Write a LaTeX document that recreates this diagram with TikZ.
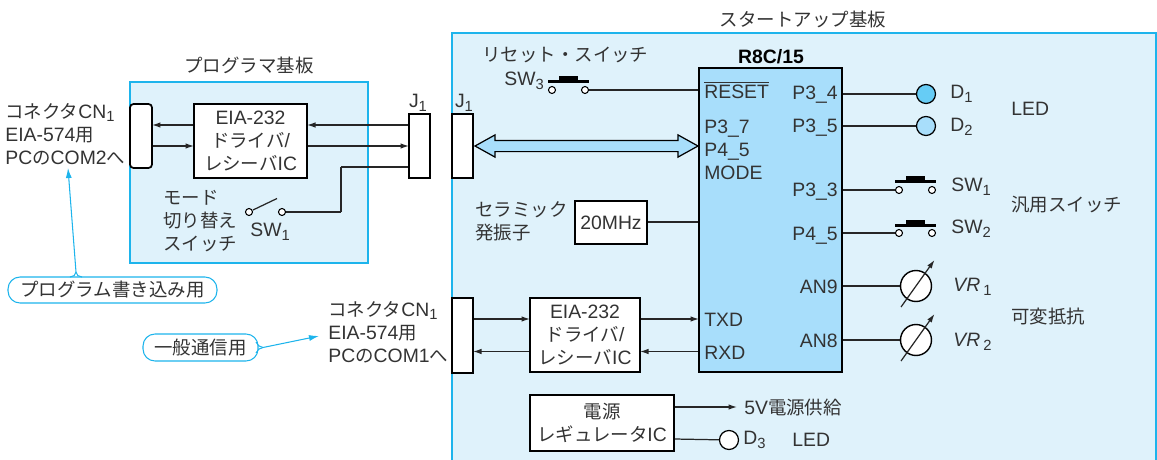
\documentclass[tikz,border=0pt]{standalone}
\usepackage{fontspec}
\setmainfont{Liberation Sans}[Scale=1.05]
\newfontfamily\jpfont{Noto Sans CJK JP}
\newXeTeXintercharclass\jpclass
\newcount\jpcode
\newcommand{\setjprange}[2]{\jpcode=#1 \loop\ifnum\jpcode<#2 \XeTeXcharclass\jpcode=\jpclass \advance\jpcode by 1 \repeat}
\setjprange{"3040}{"3100}
\setjprange{"4E00}{"A000}
\XeTeXinterchartokenstate=1
\XeTeXinterchartoks 0 \jpclass={\jpfont}
\XeTeXinterchartoks 4095 \jpclass={\jpfont}
\XeTeXinterchartoks \jpclass 0={\rmfamily}
\XeTeXinterchartoks \jpclass 4095={\rmfamily}
\newcommand{\low}[1]{\raisebox{-.35ex}{\footnotesize #1}}
\usetikzlibrary{backgrounds,shapes,shapes.arrows,arrows.meta}
\pgfdeclarelayer{boardlayer}
\pgfdeclarelayer{edgelayer}
\pgfdeclarelayer{nodelayer}
\pgfsetlayers{boardlayer,edgelayer,nodelayer,main}
\definecolor{boardline}{HTML}{1DB4EC}
\definecolor{boardfill}{HTML}{DFF2FB}
\definecolor{chipfill}{HTML}{A8DEFB}
\definecolor{ledfill}{HTML}{66CCF5}
\tikzset{font=\fontsize{10.5}{13}\selectfont}
\tikzstyle{none}=[inner sep=0pt]
\tikzstyle{board}=[rectangle,draw=boardline,fill=boardfill,line width=1pt,inner sep=0pt]
\tikzstyle{box}=[rectangle,draw=black,fill=white,line width=1pt,inner sep=0pt,align=center,text=black!80]
\tikzstyle{chip}=[rectangle,draw=black,fill=chipfill,line width=1pt,inner sep=0pt]
\tikzstyle{txt}=[inner sep=0pt,anchor=west,align=left,text=black!80]
\tikzstyle{rtxt}=[inner sep=0pt,anchor=east,align=right,text=black!80]
\tikzstyle{ctxt}=[inner sep=0pt,align=center,text=black!80]
\tikzstyle{term}=[circle,draw=black,fill=white,line width=.6pt,inner sep=0pt,minimum size=.14cm]
\tikzstyle{swbar}=[rectangle,fill=black,inner sep=0pt,minimum width=.82cm,minimum height=.06cm]
\tikzstyle{swcap}=[rectangle,fill=black,inner sep=0pt,minimum width=.38cm,minimum height=.09cm]
\tikzstyle{led}=[circle,draw=black,line width=.7pt,inner sep=0pt,minimum size=.38cm]
\tikzstyle{vr}=[circle,draw=black,fill=white,line width=.8pt,inner sep=0pt,minimum size=.62cm]
\tikzstyle{tag}=[rectangle,rounded corners=.24cm,draw=boardline,fill=white,line width=.6pt,inner sep=0pt,text=black!80]
\tikzstyle{bus}=[double arrow,draw=black,fill=chipfill,line width=.7pt,inner xsep=0pt,inner ysep=.1cm,minimum height=4.46cm,minimum width=.42cm,double arrow head extend=.11cm,double arrow tip angle=58]
\tikzstyle{wire}=[draw=black!85,line width=.7pt]
\tikzstyle{sig}=[wire,-{Latex[length=.17cm,width=.11cm]}]
\tikzstyle{tagline}=[draw=boardline,line width=.6pt]
\tikzstyle{tagarrow}=[tagline,-{Latex[length=.2cm,width=.12cm]}]
\begin{document}
\begin{tikzpicture}[x=0.02cm,y=-0.02cm]
	\useasboundingbox (0,0) rectangle (1157,460);
	\begin{pgfonlayer}{boardlayer}
		\node [style=board,minimum width=4.76cm,minimum height=3.62cm] (0) at (249,172.5) {};
		\node [style=board,minimum width=14.08cm,minimum height=8.74cm] (1) at (804,251.5) {};
	\end{pgfonlayer}
	\begin{pgfonlayer}{nodelayer}
		\node [style=ctxt] (2) at (249,65) {プログラマ基板};
		\node [style=ctxt] (3) at (803,19) {スタートアップ基板};
		\node [style=txt] (4) at (5,134) {コネクタCN\low{1}\\EIA-574用\\PCのCOM2へ};
		\node [style=box,rounded corners=.07cm,minimum width=.44cm,minimum height=1.28cm] (5) at (141,136) {};
		\node [style=box,minimum width=2.26cm,minimum height=1.48cm] (6) at (250.5,141) {EIA-232\\ドライバ/\\レシーバIC};
		\node [style=box,minimum width=.42cm,minimum height=1.28cm] (7) at (419.5,146) {};
		\node [style=box,minimum width=.42cm,minimum height=1.28cm] (8) at (462.5,146) {};
		\node [style=ctxt] (9) at (418,103) {J\low{1}};
		\node [style=ctxt] (10) at (464,103) {J\low{1}};
		\node [style=txt] (11) at (163,221) {モード\\切り替え\\スイッチ};
		\node [style=term] (12) at (249,212) {};
		\node [style=term] (13) at (282,212) {};
		\node [style=none] (14) at (253,210) {};
		\node [style=none] (15) at (277,198.5) {};
		\node [style=txt] (16) at (250,232) {SW\low{1}};
		\node [style=none] (17) at (341,167) {};
		\node [style=none] (18) at (341,212) {};
		\node [style=none] (19) at (152,125) {};
		\node [style=none] (20) at (194,125) {};
		\node [style=none] (21) at (152,146) {};
		\node [style=none] (22) at (194,146) {};
		\node [style=none] (23) at (307,125) {};
		\node [style=none] (24) at (409,125) {};
		\node [style=none] (25) at (307,146) {};
		\node [style=none] (26) at (409,146) {};
		\node [style=none] (27) at (409,167) {};
		\node [style=tag,minimum width=4.18cm,minimum height=.52cm] (28) at (112.5,290) {プログラム書き込み用};
		\node [style=none] (29) at (76,272) {};
		\node [style=none] (30) at (68,168) {};
		\node [style=txt] (31) at (482,55) {リセット・スイッチ};
		\node [style=txt] (32) at (504,81) {SW\low{3}};
		\node [style=term] (33) at (552,90) {};
		\node [style=term] (34) at (585,90) {};
		\node [style=swbar] (35) at (568.5,81) {};
		\node [style=swcap] (36) at (568.5,78.5) {};
		\node [style=chip,minimum width=2.86cm,minimum height=6.08cm] (37) at (770.5,220) {};
		\node [style=ctxt,font=\fontsize{10.5}{13}\selectfont\bfseries,text=black] (38) at (771,57) {R8C/15};
		\node [style=txt] (39) at (704,90) {$\overline{\mbox{RESET}}$};
		\node [style=none] (40) at (699,90) {};
		\node [style=txt] (41) at (704,149.5) {P3\_7\\P4\_5\\MODE};
		\node [style=txt] (42) at (704,320) {TXD};
		\node [style=txt] (43) at (704,353) {RXD};
		\node [style=rtxt] (44) at (838,95) {P3\_4};
		\node [style=rtxt] (45) at (838,128) {P3\_5};
		\node [style=rtxt] (46) at (838,191.5) {P3\_3};
		\node [style=rtxt] (47) at (838,235.5) {P4\_5};
		\node [style=rtxt] (48) at (838,287) {AN9};
		\node [style=rtxt] (49) at (838,341) {AN8};
		\node [style=bus] (50) at (586.5,146) {};
		\node [style=box,minimum width=1.44cm,minimum height=.86cm] (51) at (611,222.5) {20MHz};
		\node [style=none] (52) at (699,222) {};
		\node [style=none] (53) at (647,222) {};
		\node [style=txt] (54) at (475,221.5) {セラミック\\発振子};
		\node [style=none] (55) at (842,94) {};
		\node [style=none] (56) at (842,126) {};
		\node [style=none] (57) at (842,190) {};
		\node [style=none] (58) at (842,233) {};
		\node [style=none] (59) at (842,286) {};
		\node [style=none] (60) at (842,340) {};
		\node [style=led,fill=ledfill] (61) at (926,94) {};
		\node [style=led,fill=chipfill] (62) at (926,126) {};
		\node [style=txt] (63) at (950,94) {D\low{1}};
		\node [style=txt] (64) at (950,127) {D\low{2}};
		\node [style=txt] (65) at (1011,109) {LED};
		\node [style=term] (66) at (899,190) {};
		\node [style=term] (67) at (932,190) {};
		\node [style=swbar] (68) at (915.5,181) {};
		\node [style=swcap] (69) at (915.5,178.5) {};
		\node [style=term] (70) at (899,233) {};
		\node [style=term] (71) at (932,233) {};
		\node [style=swbar] (72) at (915.5,225) {};
		\node [style=swcap] (73) at (915.5,222.5) {};
		\node [style=txt] (74) at (951,187) {SW\low{1}};
		\node [style=txt] (75) at (951,229) {SW\low{2}};
		\node [style=txt] (76) at (1011,205) {汎用スイッチ};
		\node [style=vr] (77) at (916,286) {};
		\node [style=vr] (78) at (916,340) {};
		\node [style=none] (79) at (901,307) {};
		\node [style=none] (80) at (934.5,260) {};
		\node [style=none] (81) at (901,361) {};
		\node [style=none] (82) at (934.5,314) {};
		\node [style=txt] (83) at (953,287) {{\itshape VR}\,\low{1}};
		\node [style=txt] (84) at (953,342) {{\itshape VR}\,\low{2}};
		\node [style=txt] (85) at (1011,317) {可変抵抗};
		\node [style=box,minimum width=.42cm,minimum height=1.5cm] (86) at (462.5,335.5) {};
		\node [style=box,minimum width=2.2cm,minimum height=1.48cm] (87) at (585,335) {EIA-232\\ドライバ/\\レシーバIC};
		\node [style=txt] (88) at (328,332) {コネクタCN\low{1}\\EIA-574用\\PCのCOM1へ};
		\node [style=tag,minimum width=2.3cm,minimum height=.54cm] (89) at (200.5,347.5) {一般通信用};
		\node [style=none] (90) at (319,336) {};
		\node [style=none] (91) at (473,319) {};
		\node [style=none] (92) at (530,319) {};
		\node [style=none] (93) at (640,319) {};
		\node [style=none] (94) at (699,319) {};
		\node [style=none] (95) at (473,351.5) {};
		\node [style=none] (96) at (530,351.5) {};
		\node [style=none] (97) at (640,351.5) {};
		\node [style=none] (98) at (699,351.5) {};
		\node [style=box,minimum width=2.88cm,minimum height=1.12cm] (99) at (602,423) {電源\\レギュレータIC};
		\node [style=none] (100) at (674,407) {};
		\node [style=none] (101) at (737,407) {};
		\node [style=none] (102) at (674,439) {};
		\node [style=led,fill=white] (103) at (729,440) {};
		\node [style=txt] (104) at (744,408) {5V電源供給};
		\node [style=txt] (105) at (743,440) {D\low{3}};
		\node [style=txt] (106) at (792,440) {LED};
		\node [style=none] (107) at (70,277) {};
		\node [style=none] (108) at (82,277) {};
		\node [style=none] (109) at (256,342) {};
		\node [style=none] (110) at (256,353) {};
		\node [style=none] (111) at (263,347.5) {};
	\end{pgfonlayer}
	\begin{pgfonlayer}{edgelayer}
		\draw [style=sig] (20.center) to (19.center);
		\draw [style=sig] (21.center) to (22.center);
		\draw [style=sig] (24.center) to (23.center);
		\draw [style=sig] (25.center) to (26.center);
		\draw [style=wire] (27.center) to (17.center);
		\draw [style=wire] (17.center) to (18.center);
		\draw [style=wire] (18.center) to (13.center);
		\draw [style=wire] (14.center) to (15.center);
		\draw [style=tagarrow] (29.center) to (30.center);
		\draw [style=tagarrow] (111.center) to (90.center);
		\draw [style=wire] (34.center) to (40.center);
		\draw [style=wire] (53.center) to (52.center);
		\draw [style=wire] (55.center) to (61.center);
		\draw [style=wire] (56.center) to (62.center);
		\draw [style=wire] (57.center) to (66.center);
		\draw [style=wire] (58.center) to (70.center);
		\draw [style=wire] (59.center) to (77.center);
		\draw [style=wire] (60.center) to (78.center);
		\draw [style=sig] (91.center) to (92.center);
		\draw [style=sig] (93.center) to (94.center);
		\draw [style=sig] (96.center) to (95.center);
		\draw [style=sig] (98.center) to (97.center);
		\draw [style=sig] (100.center) to (101.center);
		\draw [style=wire] (102.center) to (103.center);
	\end{pgfonlayer}
	\draw [style=sig] (79.center) to (80.center);
	\draw [style=sig] (81.center) to (82.center);
	\draw [style=tagline] [in=-90, out=0] (107.center) to (29.center);
	\draw [style=tagline] [in=-90, out=180] (108.center) to (29.center);
	\draw [style=tagline] [in=180, out=-60] (109.center) to (111.center);
	\draw [style=tagline] [in=180, out=60] (110.center) to (111.center);
\end{tikzpicture}
\end{document}
